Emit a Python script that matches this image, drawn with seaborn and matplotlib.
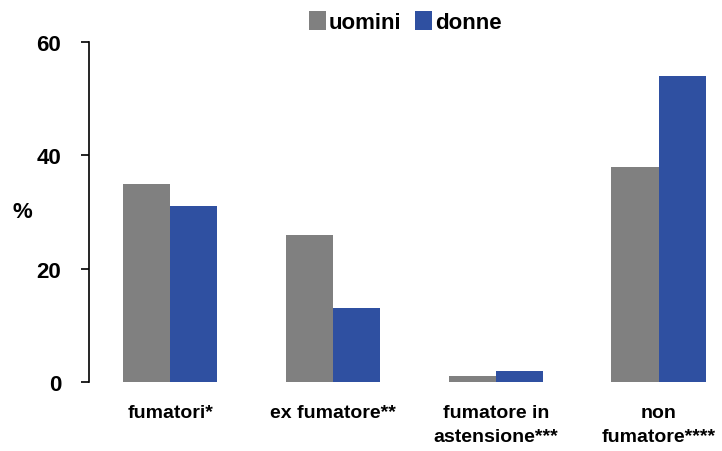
import numpy as np
import pandas as pd
import matplotlib
matplotlib.use("Agg")
import matplotlib.pyplot as plt
import seaborn as sns

# ---------------------------------------------------------------- data
categories = ["fumatori*", "ex fumatore**", "fumatore in\nastensione***", "non\nfumatore****"]
uomini = [35, 26, 1, 38]
donne = [31, 13, 2, 54]
series = ["uomini", "donne"]
yticks = [0, 20, 40, 60]

df = pd.DataFrame({
    "categoria": categories * 2,
    "valore": uomini + donne,
    "sesso": ["uomini"] * len(categories) + ["donne"] * len(categories),
})

# ---------------------------------------------------------------- plot
sns.set_theme(style="white")
plt.rcParams["font.family"] = ["Liberation Sans", "DejaVu Sans"]
plt.rcParams["font.weight"] = "bold"
plt.rcParams["text.color"] = "black"
plt.rcParams["xtick.color"] = "black"
plt.rcParams["ytick.color"] = "black"
plt.rcParams["axes.labelcolor"] = "black"

fig = plt.figure(figsize=(7.22, 4.52), dpi=100)
ax = fig.add_axes([0.123, 0.153, 0.877, 0.752])

sns.barplot(data=df, x="categoria", y="valore", hue="sesso", hue_order=series,
            palette={"uomini": "#808080", "donne": "#2F50A1"},
            width=0.58, saturation=1, linewidth=0, ax=ax)

ax.set_ylim(0, 60)
ax.set_xlim(-0.5, 3.39)
ax.set_yticks(yticks)
ax.set_yticklabels([str(v) for v in yticks], fontsize=16, fontweight="bold")
ax.tick_params(axis="y", direction="out", length=6, width=1.2, color="black", pad=14, left=True)
ax.tick_params(axis="x", length=0, pad=16)
for lab in ax.get_xticklabels():
    lab.set_fontsize(14)
    lab.set_fontweight("bold")
    lab.set_linespacing(1.5)

for s in ["top", "right", "bottom"]:
    ax.spines[s].set_visible(False)
ax.spines["left"].set_color("black")
ax.spines["left"].set_linewidth(1.2)

ax.set_xlabel("")
ax.set_ylabel("%", rotation=0, fontsize=16, fontweight="bold")
ax.yaxis.set_label_coords(-0.105, 0.47)

ax.legend(loc="lower center", bbox_to_anchor=(0.5, 1.0), ncol=2, frameon=False,
          prop={"size": 16, "weight": "bold"}, handlelength=0.75, handleheight=0.9,
          handletextpad=0.15, columnspacing=0.6, borderaxespad=0)

fig.savefig("out.png", dpi=100)
